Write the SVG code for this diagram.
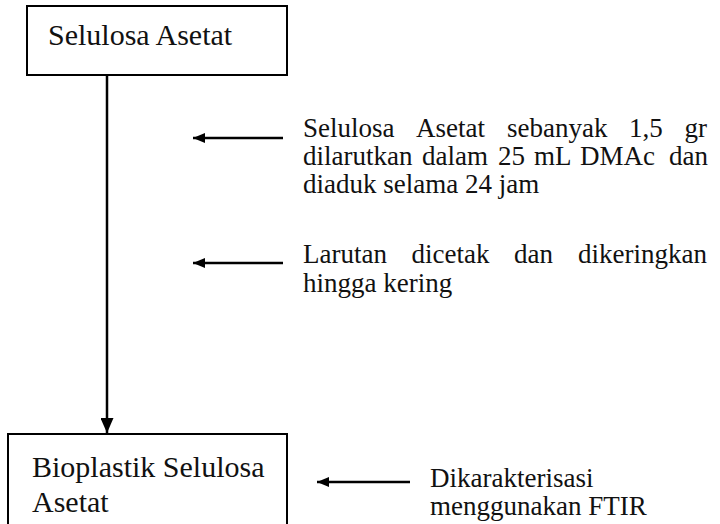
<svg xmlns="http://www.w3.org/2000/svg" width="720" height="524" viewBox="0 0 720 524">
<defs>
<style>
.box{fill:#fff;stroke:#000;stroke-width:2}
.t{font-family:"Liberation Serif","Times New Roman",serif;fill:#111}
.big{font-size:30px}
.sm{font-size:27px}
.ln{stroke:#000;stroke-width:2.5;fill:none}
</style>
<marker id="ah" markerWidth="12" markerHeight="10" refX="12" refY="5" orient="auto" markerUnits="userSpaceOnUse" viewBox="0 0 12 10">
<path d="M0,0 L12,5 L0,10 Z" fill="#000"/>
</marker>
<marker id="av" markerWidth="15" markerHeight="13" refX="15" refY="6.5" orient="auto" markerUnits="userSpaceOnUse" viewBox="0 0 15 13">
<path d="M0,0 L15,6.5 L0,13 Z" fill="#000"/>
</marker>
</defs>
<rect width="720" height="524" fill="#fff"/>
<g id="connectors">
<line class="ln" x1="107" y1="76" x2="107" y2="433" marker-end="url(#av)"/>
<line class="ln" x1="283" y1="138" x2="193" y2="138" marker-end="url(#ah)"/>
<line class="ln" x1="283" y1="263" x2="193" y2="263" marker-end="url(#ah)"/>
<line class="ln" x1="410" y1="482" x2="317" y2="482" marker-end="url(#ah)"/>
</g>
<g id="node-selulosa-asetat">
<rect class="box" x="27" y="6" width="260" height="69"/>
<text class="t big" x="48" y="45">Selulosa Asetat</text>
</g>
<g id="node-bioplastik">
<rect class="box" x="8" y="434" width="279" height="100"/>
<text class="t big" x="32" y="477">Bioplastik Selulosa</text>
<text class="t big" x="32" y="512">Asetat</text>
</g>
<g id="label-step1">
<text class="t sm" y="137"><tspan x="303">Selulosa</tspan><tspan x="416">Asetat</tspan><tspan x="507">sebanyak</tspan><tspan x="629">1,5</tspan><tspan x="684.5">gr</tspan></text>
<text class="t sm" y="165"><tspan x="303">dilarutkan</tspan><tspan x="422">dalam</tspan><tspan x="498">25</tspan><tspan x="534">mL</tspan><tspan x="580">DMAc</tspan><tspan x="669">dan</tspan></text>
<text class="t sm" x="303" y="192.5">diaduk selama 24 jam</text>
</g>
<g id="label-step2">
<text class="t sm" y="263"><tspan x="303">Larutan</tspan><tspan x="411.5">dicetak</tspan><tspan x="514">dan</tspan><tspan x="578">dikeringkan</tspan></text>
<text class="t sm" x="303" y="292">hingga kering</text>
</g>
<g id="label-step3">
<text class="t sm" x="430" y="487">Dikarakterisasi</text>
<text class="t sm" x="430" y="515">menggunakan FTIR</text>
</g>
</svg>
